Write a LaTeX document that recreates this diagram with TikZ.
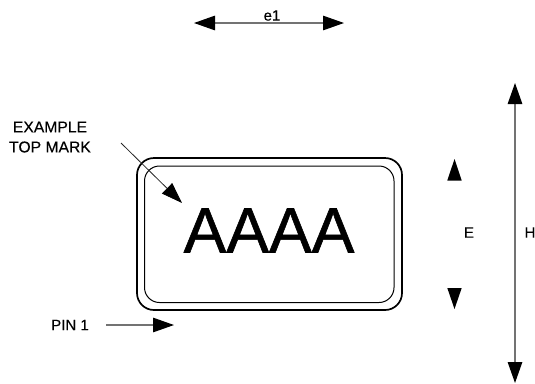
\documentclass[tikz,border=0pt]{standalone}
\usepackage{fontspec}
\setmainfont{Liberation Sans}
\newfontfamily\heavyface[FakeBold=0.9]{Liberation Sans}
\newfontfamily\labelface[FakeBold=0.25]{Liberation Sans}
\usetikzlibrary{arrows.meta}
\tikzset{
  bigtip/.tip={Triangle[length=21bp,width=14.5bp,black]},
  dimline/.style={draw=black!55,line width=1.2bp},
  leadline/.style={draw=black!85,line width=0.8bp},
  lbl/.style={font=\labelface\fontsize{15bp}{16bp}\selectfont,inner sep=0pt,text=black},
  wlbl/.style={font=\labelface\fontsize{15.7bp}{16bp}\selectfont,inner sep=0pt,text=black},
  solohead/.style={fill=black,draw=none},
  outerbody/.style={draw=black,line width=1.7bp,rounded corners=17bp},
  innerbody/.style={draw=black,line width=1bp,rounded corners=15bp}
}
\begin{document}
\begin{tikzpicture}[x=1bp,y=-1bp]
\useasboundingbox (0,0) rectangle (535,383);
\draw[outerbody] (137,158) rectangle (402,310);
\draw[innerbody] (144.5,166) rectangle (394,302.5);
\node[font=\heavyface\fontsize{64bp}{70bp}\selectfont,inner sep=0pt] (mark) at (269,230.5) {AAAA};
\coordinate (e1l) at (194,23); \coordinate (e1r) at (344,23);
\draw[dimline,{bigtip}-{bigtip}] (e1l) -- (e1r);
\node[lbl] (e1t) at (272,15.5) {e1};
\coordinate (Ht) at (515,83); \coordinate (Hb) at (515,383);
\draw[dimline,{bigtip}-{bigtip}] (Ht) -- (Hb);
\node[lbl] (Hlab) at (530,232.5) {H};
\node[lbl] (Elab) at (469,232.5) {E};
\fill[solohead] (454.5,159) -- (461.7,180.5) -- (447.3,180.5) -- cycle;
\fill[solohead] (454.5,309) -- (461.7,288) -- (447.3,288) -- cycle;
\node[wlbl] (ex) at (50,127) {EXAMPLE};
\node[wlbl] (tm) at (50,147) {TOP MARK};
\coordinate (ta) at (121,143); \coordinate (tb) at (182,203);
\draw[leadline,-{bigtip}] (ta) -- (tb);
\node[lbl] (pin) at (70,325) {PIN 1};
\coordinate (pa) at (106,325); \coordinate (pb) at (174,325);
\draw[dimline,-{bigtip}] (pa) -- (pb);
\end{tikzpicture}
\end{document}
